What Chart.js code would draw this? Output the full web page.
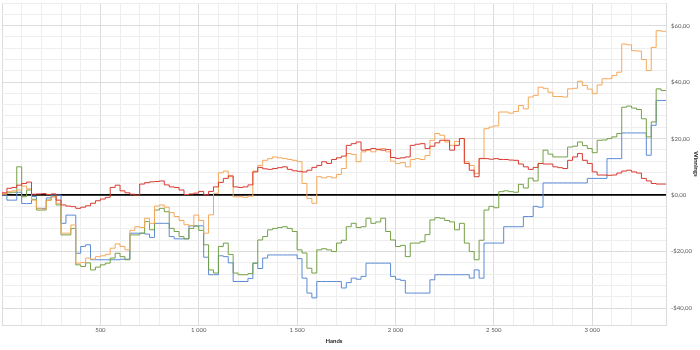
<!DOCTYPE html>
<html>
<head>
<meta charset="utf-8">
<script src="https://cdn.jsdelivr.net/npm/chart.js@4.4.1/dist/chart.umd.min.js"></script>
<style>
  html, body { margin: 0; padding: 0; background: #fff; }
  #wrap { width: 700px; height: 350px; }
</style>
</head>
<body>
<div id="wrap"><canvas id="chart"></canvas></div>
<script>
// hands sampled every 25
const hands = Array.from({ length: 136 }, (_, i) => i * 25);

const red = [0,0.8,2.4,2.7,3.5,4.1,4.6,0.3,0.4,0.5,
  0.2,0.4,-1.8,-3.5,-3.9,-4.1,-4.7,-4.3,-3.8,-2.9,
  -2.0,-1.4,-0.8,2.7,3.5,1.5,0.8,0.3,0.0,3.9,
  4.4,4.7,4.8,5.0,3.6,2.9,2.7,1.8,0.2,0.4,
  0.7,1.3,0.1,1.3,2.9,4.5,5.9,6.8,2.9,2.7,
  2.9,3.6,8.2,9.8,9.3,9.1,9.4,9.7,10.0,9.1,
  8.6,8.4,8.2,8.8,9.8,10.5,11.8,11.2,12.6,13.2,
  13.8,17.6,18.2,18.8,15.9,16.1,16.5,16.2,15.9,16.1,
  13.3,13.0,13.2,13.5,17.6,18.0,18.2,16.5,17.3,18.5,
  19.4,19.4,15.9,17.6,20.0,11.2,8.8,6.5,12.9,12.9,
  12.7,12.9,12.6,12.6,12.4,12.3,11.0,10.0,9.1,9.8,
  11.2,11.0,11.0,10.0,9.7,9.4,12.3,13.5,14.7,12.3,
  11.2,8.2,7.1,7.1,7.0,7.1,7.8,8.5,8.8,8.2,
  7.8,5.9,5.0,4.1,3.9,3.9];

const orange = [0.2,0.4,1.2,1.5,1.8,3.2,2.2,-1.8,-4.7,-5.0,
  -1.8,-0.6,-2.9,-13.5,-13.5,-10.6,-24.1,-23.9,-22.3,-22.7,
  -21.8,-21.5,-21.0,-18.8,-17.3,-18.2,-19.4,-12.5,-11.2,-11.5,
  -8.2,-10.0,-3.9,-3.5,-4.3,-6.2,-7.6,-9.0,-10.5,-10.8,
  -7.1,-9.0,-13.5,-7.0,0.6,7.9,8.5,6.5,-0.6,-0.6,
  -0.8,-0.4,8.5,10.5,12.3,12.9,13.5,13.2,12.9,12.6,
  12.3,11.8,4.1,-1.2,-2.9,6.5,6.1,6.5,6.1,7.3,
  9.4,14.7,14.4,11.8,15.3,15.9,15.3,16.0,16.5,15.3,
  12.0,11.2,11.5,10.0,12.6,12.9,12.6,14.0,19.4,21.8,
  21.2,18.8,17.6,19.0,20.0,11.8,10.5,7.6,13.0,23.5,
  24.1,24.5,29.4,29.4,29.0,29.6,31.7,30.5,34.7,35.3,
  38.2,37.8,36.4,34.9,34.9,34.7,37.6,37.8,40.3,38.8,
  37.5,35.9,39.0,41.2,41.2,42.3,43.5,53.5,53.2,51.1,
  51.0,48.0,44.1,52.3,58.2,58.0];

const green = [0,0.3,0.8,1.0,10.0,-0.6,1.8,-1.5,-5.3,-5.3,
  -1.8,-0.6,-3.5,-14.1,-14.1,-11.8,-24.7,-25.3,-24.0,-26.5,
  -25.5,-24.7,-24.1,-22.3,-20.6,-21.8,-22.9,-14.1,-14.1,-13.5,
  -9.4,-12.3,-5.3,-4.7,-5.9,-11.8,-12.9,-14.7,-15.5,-11.8,
  -11.0,-12.5,-17.6,-26.5,-27.6,-18.2,-17.0,-21.0,-27.6,-28.2,
  -28.2,-27.8,-24.1,-15.9,-14.7,-12.3,-11.8,-11.5,-11.2,-11.8,
  -12.9,-19.4,-20.5,-25.9,-27.6,-19.4,-19.0,-19.4,-20.0,-17.0,
  -16.0,-11.2,-10.0,-11.5,-11.2,-8.2,-10.0,-9.5,-8.2,-12.9,
  -15.9,-18.2,-17.8,-21.8,-17.0,-17.0,-16.5,-14.0,-8.8,-8.0,
  -8.2,-9.0,-9.5,-12.3,-10.0,-17.0,-20.0,-22.9,-16.0,-5.3,
  -4.0,-4.5,1.2,1.5,1.2,1.0,3.8,2.5,6.0,5.0,
  11.2,15.9,14.5,13.5,13.5,13.5,17.0,17.3,18.8,17.5,
  16.5,15.0,19.4,19.5,20.0,20.6,21.8,31.1,31.5,30.8,
  30.3,27.0,20.6,25.9,37.6,37.0];

const blue = [0,0,-1.8,-1.8,1.0,-3.0,-3.0,-0.5,-4.7,-4.7,
  -1.0,0,0,-10.0,-7.1,-7.1,-20.6,-18.2,-17.6,-22.9,
  -22.9,-22.9,-22.9,-22.9,-22.9,-22.7,-22.7,-13.5,-13.5,-13.5,
  -13.8,-15.0,-10.0,-10.0,-10.0,-14.7,-15.5,-15.5,-15.5,-10.9,
  -10.9,-10.9,-22.0,-28.2,-28.2,-21.5,-21.8,-24.0,-30.6,-30.6,
  -30.6,-29.5,-24.1,-26.0,-22.3,-21.2,-21.2,-21.2,-21.2,-21.2,
  -21.2,-22.5,-29.4,-34.7,-36.4,-30.6,-30.6,-30.6,-30.6,-30.6,
  -32.9,-31.0,-29.4,-29.8,-28.8,-24.1,-24.1,-24.1,-24.1,-24.1,
  -28.8,-29.8,-30.2,-34.7,-34.7,-34.7,-34.7,-34.7,-30.0,-28.2,
  -28.2,-28.2,-28.2,-28.2,-28.2,-28.2,-29.4,-26.5,-29.4,-17.0,
  -17.0,-17.0,-17.0,-11.2,-11.2,-11.2,-11.2,-7.6,-7.6,-4.0,
  -4.3,4.3,4.3,4.3,4.3,4.3,4.3,4.3,4.3,4.3,
  5.9,5.9,5.9,5.9,12.9,12.9,12.9,22.0,22.0,22.0,
  22.0,22.0,14.1,24.7,33.5,33.5];

const xLabelEvery = 500;
const yLabelEvery = 20;

function pts(vals) {
  return vals.map((v, i) => ({ x: hands[i], y: v }));
}
function series(vals, color) {
  return {
    data: pts(vals),
    borderColor: color,
    borderWidth: 1,
    pointRadius: 0,
    stepped: 'after',
    fill: false
  };
}
function money(v) {
  const s = '$' + Math.abs(v).toFixed(2).replace('.', ',');
  return v < 0 ? '-' + s : s;
}

const chart = new Chart(document.getElementById('chart'), {
  type: 'line',
  data: {
    datasets: [
      series(red, '#d93a32'),
      series(orange, '#f5a85a'),
      series(green, '#74a046'),
      series(blue, '#5b8bd6')
    ]
  },
  options: {
    responsive: true,
    maintainAspectRatio: false,
    animation: false,
    layout: { padding: { left: 2, top: 3, right: 0, bottom: 0 } },
    plugins: { legend: { display: false }, tooltip: { enabled: false } },
    scales: {
      x: {
        type: 'linear',
        min: 0,
        max: 3375,
        afterFit: (s) => { s.height = 25; s.paddingLeft = 0; s.paddingRight = 0; },
        grid: {
          drawTicks: false,
          color: (c) => (c.tick && c.tick.value % xLabelEvery === 0 ? '#dcdcdc' : '#eeeeee'),
          lineWidth: 1
        },
        border: { color: '#dcdcdc' },
        ticks: {
          stepSize: 100,
          autoSkip: false,
          maxRotation: 0,
          padding: 1,
          color: '#595959',
          font: { family: 'Lato', size: 6 },
          callback: (v) => (v > 0 && v % xLabelEvery === 0 ? String(v).replace(/\B(?=(\d{3})+(?!\d))/g, ' ') : '')
        },
        title: {
          display: true,
          text: 'Hands',
          color: '#222',
          font: { family: 'Lato', size: 6, weight: 'bold' },
          padding: { top: 2, bottom: 5 }
        }
      },
      y: {
        position: 'right',
        min: -46,
        max: 68,
        afterFit: (s) => { s.width = 34; s.paddingTop = 0; s.paddingBottom = 0; },
        grid: {
          drawTicks: false,
          color: (c) => {
            const v = c.tick && c.tick.value;
            if (v === 0) return '#000';
            return v % yLabelEvery === 0 ? '#dcdcdc' : '#eeeeee';
          },
          lineWidth: (c) => (c.tick && c.tick.value === 0 ? 1.8 : 1)
        },
        border: { color: '#dcdcdc' },
        ticks: {
          stepSize: 4,
          autoSkip: false,
          padding: 5,
          color: '#595959',
          font: { family: 'Lato', size: 6 },
          callback: (v) => (v % yLabelEvery === 0 ? money(v) : '')
        },
        title: {
          display: true,
          text: 'Winnings',
          color: '#222',
          font: { family: 'Lato', size: 6, weight: 'bold' },
          padding: 0
        }
      }
    }
  }
});
</script>
</body>
</html>
